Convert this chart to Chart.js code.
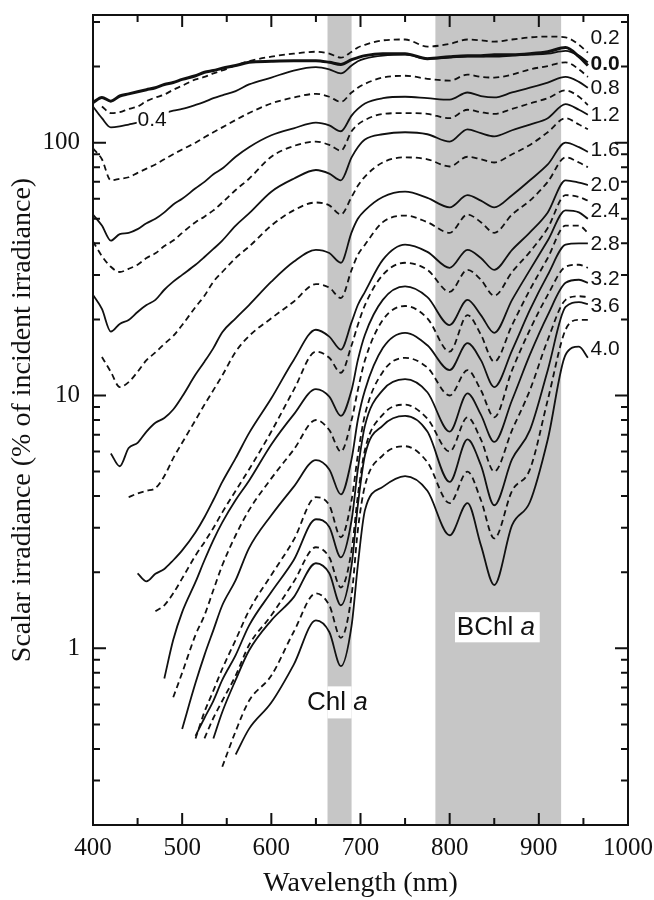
<!DOCTYPE html>
<html lang="en">
<head>
<meta charset="UTF-8">
<title>Scalar irradiance spectra</title>
<script src="https://cdn.jsdelivr.net/npm/chart.js"></script>
<style>
  body { margin: 0; background: #fff; }
  #wrap { width: 654px; height: 900px; }
</style>
</head>
<body>
<div id="wrap"><canvas id="chart" width="654" height="900"></canvas></div>
<script>
// wavelength grid (nm)
const wavelengths = [400, 410, 420, 430, 440, 450, 460, 470, 480, 490, 500, 515, 525, 535, 545, 560, 575, 600, 625, 650,
  665, 678, 690, 697, 705, 725, 750, 775, 800, 820, 835, 850, 870, 890, 910, 930, 945, 955];

// scalar irradiance (% of incident) per depth (mm)
const depth00 = [144, 151, 146, 153, 156, 159, 162, 165, 170, 173, 178, 184, 190, 193, 197, 202, 208, 210, 211, 211,
  208, 204, 213, 217, 221, 225, 225, 215, 219, 221, 221, 223, 223, 225, 229, 238, 219, 202];
const depth02 = [null, 139, 131, 132, 136, 139, 146, 151, 155, 162, 168, 178, 182, 188, 193, 202, 210, 219, 225, 229,
  225, 217, 229, 238, 244, 254, 256, 240, 246, 256, 254, 251, 256, 261, 263, 261, 244, 227];
const depth04 = [139, 125, 115, 116, 118, 120, 123, 127, 131, 134, 136, 141, 145, 150, 154, 160, 170, 181, 193, 199,
  195, 188, 202, 210, 215, 221, 223, 215, 217, 219, 219, 219, 221, 223, 225, 231, 221, 208];
const depth06 = [95, 86, 71, 72, 73, 76, 79, 82, 86, 90, 94, 100, 105, 110, 115, 123, 131, 143, 151, 156,
  152, 145, 158, 165, 171, 181, 184, 179, 176, 186, 182, 181, 186, 195, 201, 208, 195, 182];
const depth08 = [52, 47, 41, 43.5, 44, 45.5, 48, 50, 53, 57, 60, 66, 70, 75, 79, 88, 96, 107, 114, 120,
  117, 111, 128, 136, 143, 150, 152, 150, 148, 158, 153, 151, 158, 165, 173, 182, 174, 165];
const depth10 = [40.7, 35.6, 32.3, 30.8, 31.7, 32.9, 35, 36.5, 39, 41, 44, 48.5, 51, 54, 58, 65, 72, 88, 97, 101,
  98, 93, 111, 118, 123, 130, 131, 130, 125, 135, 132, 130, 136, 143, 150, 161, 152, 141];
const depth12 = [25, 22, 17.9, 19.2, 19.9, 21.4, 22.8, 23.9, 26.2, 28.2, 30, 32.9, 35.3, 38, 41, 47, 52.5, 64, 72, 78,
  75.5, 71, 87.5, 96, 103, 108, 110, 108, 101, 113, 109, 106, 112, 118, 125, 142, 135, 129];
const depth14 = [null, 14.2, 12.4, 10.8, 11.3, 12.4, 13.8, 14.8, 16, 17.2, 19, 22.4, 24.8, 28.2, 30.8, 35, 38.8, 47, 54, 58,
  56.5, 52, 61, 67.5, 73.5, 83.5, 87.5, 86, 80.5, 88, 86, 83.5, 90, 98, 110, 125, 118, 113];
const depth16 = [null, null, 5.9, 5.25, 6.2, 6.5, 7.2, 7.8, 8.15, 8.8, 9.9, 12.1, 13.6, 15.4, 17.8, 20.2, 22.8, 28.2, 33.8, 37.7,
  36.6, 33.5, 44.2, 50, 54, 61, 64, 60.5, 55.5, 62, 59, 55.5, 62, 71, 82, 100, 96, 92];
const depth18 = [null, null, null, null, 3.96, 4.1, 4.2, 4.3, 4.8, 5.65, 6.5, 8, 9.2, 10.5, 12, 14.9, 17.2, 20.2, 23.5, 27.6,
  26.7, 24.3, 31.4, 36, 39.5, 48.5, 51.5, 48.5, 44, 52, 48.5, 44, 52, 59, 70, 87.5, 83.5, 80];
const depth20 = [null, null, null, null, null, 1.98, 1.84, 1.97, 2.06, 2.23, 2.44, 2.88, 3.3, 3.86, 4.55, 5.65, 7.1, 9.75, 13.8, 18.2,
  17.1, 15.2, 19.5, 22.8, 25.7, 34.4, 39.5, 37, 32, 37.7, 35, 31.4, 37.7, 44.2, 53, 71, 69.5, 68];
const depth22 = [null, null, null, null, null, null, null, 1.40, 1.48, 1.65, 1.89, 2.33, 2.63, 2.99, 3.45, 4.2, 5.1, 7.2, 10.5, 14.9,
  14.1, 12.3, 15.8, 19, 22.8, 30, 33.5, 31.4, 25.7, 31.4, 28.7, 24.8, 30.8, 37, 46, 62, 61, 59];
const depth24 = [null, null, null, null, null, null, null, null, 0.76, 1.08, 1.39, 1.83, 2.23, 2.68, 3.15, 3.86, 4.6, 6.4, 8.4, 10.6,
  9.9, 8.3, 10.5, 13.8, 17.4, 23.9, 27, 24.5, 19, 23.9, 20.8, 17.7, 23.9, 31.4, 41, 54, 53, 50];
const depth26 = [null, null, null, null, null, null, null, null, null, 0.64, 0.80, 1.13, 1.35, 1.70, 2.13, 2.8, 3.52, 4.7, 6.1, 8,
  7.3, 6, 8, 10.5, 13.8, 19.9, 22.6, 20.2, 14.9, 20.8, 17.4, 13.6, 19, 26.2, 35, 47, 47, 44];
const depth28 = [null, null, null, null, null, null, null, null, null, null, 0.48, 0.73, 0.94, 1.18, 1.48, 1.86, 2.49, 3.36, 4.35, 5.55,
  5.1, 4.06, 5.6, 8, 10.5, 15.4, 17.7, 15.8, 12.6, 16.1, 13.8, 10.8, 15.1, 21.8, 30, 39.5, 40, 40];
const depth30 = [null, null, null, null, null, null, null, null, null, null, null, 0.44, 0.56, 0.68, 0.83, 1.08, 1.41, 1.95, 2.68, 3.96,
  3.68, 2.75, 3.86, 5.8, 8.4, 12.4, 14.1, 12.9, 10, 12.6, 10.5, 8.2, 12.6, 18.2, 25, 32.3, 32.9, 32];
const depth32 = [null, null, null, null, null, null, null, null, null, null, null, 0.45, 0.53, 0.62, 0.75, 0.94, 1.23, 1.67, 2.23, 3.24,
  3.02, 2.29, 3.21, 5.1, 7.6, 10.5, 11.6, 10.3, 7.2, 10.2, 8.4, 6.55, 9.6, 14.5, 20.8, 27.9, 28.7, 27.9];
const depth34 = [null, null, null, null, null, null, null, null, null, null, null, null, 0.44, 0.53, 0.62, 0.78, 1.03, 1.35, 1.83, 2.51,
  2.29, 1.74, 2.44, 4.0, 6.1, 8.4, 9.2, 8.1, 6, 8.2, 6.7, 5, 7.3, 10.5, 16.6, 23.9, 24.7, 24.5];
const depth36 = [null, null, null, null, null, null, null, null, null, null, null, null, null, 0.44, 0.56, 0.75, 0.98, 1.29, 1.59, 2.17,
  1.98, 1.48, 2.13, 3.68, 5.8, 7.6, 8.3, 7.2, 4.55, 6.7, 5.3, 3.68, 5.6, 7.3, 12.6, 22.4, 23.4, 23];
const depth38 = [null, null, null, null, null, null, null, null, null, null, null, null, null, null, 0.34, 0.47, 0.62, 0.78, 1.16, 1.65,
  1.48, 1.1, 1.62, 2.93, 4.4, 5.8, 6.3, 5.45, 3.75, 5, 3.86, 2.72, 4.2, 5.1, 9.6, 18.2, 19.9, 19.9];
const depth40 = [null, null, null, null, null, null, null, null, null, null, null, null, null, null, null, 0.38, 0.48, 0.61, 0.86, 1.29,
  1.16, 0.85, 1.23, 2.13, 3.52, 4.35, 4.8, 4.2, 2.8, 3.75, 2.56, 1.78, 3.07, 3.79, 6.7, 14.5, 15.6, 14.1];

const depthNames = ['0.0', '0.2', '0.4', '0.6', '0.8', '1.0', '1.2', '1.4', '1.6', '1.8', '2.0',
  '2.2', '2.4', '2.6', '2.8', '3.0', '3.2', '3.4', '3.6', '3.8', '4.0'];
const depthSeries = [depth00, depth02, depth04, depth06, depth08, depth10, depth12, depth14, depth16, depth18, depth20,
  depth22, depth24, depth26, depth28, depth30, depth32, depth34, depth36, depth38, depth40];

// depth labels at the right end of the curves
const sideLabels = ['0.2', '0.0', '0.8', '1.2', '1.6', '2.0', '2.4', '2.8', '3.2', '3.6', '4.0'];
const sideLabelValues = [258, 204, 164, 128, 93, 67.6, 53.8, 39.8, 28.9, 22.6, 15.3];

// axis ticks
const xTicks = [400, 450, 500, 550, 600, 650, 700, 750, 800, 850, 900, 950, 1000];
const yTicks = [0.2, 0.3, 0.4, 0.5, 0.6, 0.7, 0.8, 0.9, 1, 2, 3, 4, 5, 6, 7, 8, 9,
  10, 20, 30, 40, 50, 60, 70, 80, 90, 100, 200, 300];

// absorption bands (nm)
const chlBand = [663, 690];
const bchlBand = [784, 925];

const serif = '"Liberation Serif", "Times New Roman", serif';
const sans = '"Liberation Sans", Arial, sans-serif';
const ink = '#111';

const datasets = depthSeries.map((vals, i) => ({
  label: depthNames[i],
  data: wavelengths.map((w, j) => ({ x: w, y: vals[j] })),
  borderColor: ink,
  borderWidth: i === 0 ? 3 : 1.8,
  borderDash: i % 2 === 1 ? [6, 4] : [],
  pointRadius: 0,
  cubicInterpolationMode: 'monotone',
  fill: false
}));

function drawParts(ctx, parts, x, y, size) {
  let cx = x;
  parts.forEach(([txt, italic]) => {
    ctx.font = (italic ? 'italic ' : '') + size + 'px ' + sans;
    ctx.fillText(txt, cx, y);
    cx += ctx.measureText(txt).width;
  });
}

const decor = {
  id: 'decor',
  beforeDatasetsDraw(chart) {
    const { ctx, chartArea: a, scales: { x } } = chart;
    ctx.save();
    ctx.fillStyle = '#c6c6c6';
    [chlBand, bchlBand].forEach(([lo, hi]) => {
      const x0 = x.getPixelForValue(lo), x1 = x.getPixelForValue(hi);
      ctx.fillRect(x0, a.top, x1 - x0, a.bottom - a.top);
    });
    ctx.restore();
  },
  afterDatasetsDraw(chart) {
    const { ctx, scales: { x, y } } = chart;
    ctx.save();
    ctx.fillStyle = '#fff';
    // gap in the Chl band for its label
    const cx0 = x.getPixelForValue(chlBand[0]), cx1 = x.getPixelForValue(chlBand[1]);
    ctx.fillRect(cx0, y.getPixelForValue(0.707), cx1 - cx0, y.getPixelForValue(0.528) - y.getPixelForValue(0.707));
    // box behind BChl a
    const bx0 = x.getPixelForValue(806), bx1 = x.getPixelForValue(901);
    ctx.fillRect(bx0, y.getPixelForValue(1.39), bx1 - bx0, y.getPixelForValue(1.056) - y.getPixelForValue(1.39));
    // box behind 0.4 label
    const lx0 = x.getPixelForValue(449), lx1 = x.getPixelForValue(485);
    ctx.fillRect(lx0, y.getPixelForValue(134), lx1 - lx0, y.getPixelForValue(113.6) - y.getPixelForValue(134));

    ctx.fillStyle = ink;
    ctx.textBaseline = 'middle';
    ctx.textAlign = 'left';
    drawParts(ctx, [['Chl ', false], ['a', true]], x.getPixelForValue(640), y.getPixelForValue(0.61), 26);
    drawParts(ctx, [['BChl ', false], ['a', true]], x.getPixelForValue(808), y.getPixelForValue(1.21), 26);

    ctx.font = '21px ' + sans;
    ctx.fillText('0.4', x.getPixelForValue(450), y.getPixelForValue(123));
    sideLabels.forEach((t, i) => {
      ctx.font = (t === '0.0' ? 'bold ' : '') + '21px ' + sans;
      ctx.fillText(t, x.getPixelForValue(958), y.getPixelForValue(sideLabelValues[i]));
    });
    ctx.restore();
  },
  afterDraw(chart) {
    const { ctx, chartArea: a, scales: { x, y } } = chart;
    ctx.save();
    ctx.strokeStyle = ink;
    ctx.lineWidth = 2;
    ctx.strokeRect(a.left, a.top, a.right - a.left, a.bottom - a.top);
    ctx.beginPath();
    yTicks.forEach(v => {
      const py = y.getPixelForValue(v);
      const len = [1, 10, 100].includes(v) ? 13 : 7;
      ctx.moveTo(a.left, py); ctx.lineTo(a.left + len, py);
      ctx.moveTo(a.right, py); ctx.lineTo(a.right - len, py);
    });
    xTicks.forEach(v => {
      const px = x.getPixelForValue(v);
      const len = v % 100 === 0 ? 12 : 7;
      ctx.moveTo(px, a.bottom); ctx.lineTo(px, a.bottom - len);
      ctx.moveTo(px, a.top); ctx.lineTo(px, a.top + len);
    });
    ctx.stroke();
    ctx.restore();
  }
};

new Chart(document.getElementById('chart'), {
  type: 'line',
  data: { datasets },
  options: {
    responsive: false,
    animation: false,
    devicePixelRatio: 1,
    layout: { padding: { top: 15, right: 26, left: 0, bottom: 0 } },
    plugins: { legend: { display: false }, tooltip: { enabled: false } },
    scales: {
      x: {
        type: 'linear',
        min: 400,
        max: 1000,
        afterFit: s => { s.height = 75; s.paddingLeft = 0; s.paddingRight = 0; },
        afterBuildTicks: s => { s.ticks = xTicks.filter(v => v % 100 === 0).map(v => ({ value: v })); },
        grid: { display: false, drawTicks: false },
        border: { display: false },
        ticks: {
          autoSkip: false, maxRotation: 0, padding: 8, color: ink,
          font: { family: serif, size: 25 },
          callback: v => String(v)
        },
        title: { display: true, text: 'Wavelength (nm)', color: ink, font: { family: serif, size: 28 }, padding: { top: 0, bottom: 0 } }
      },
      y: {
        type: 'logarithmic',
        min: 0.2,
        max: 320,
        afterFit: s => { s.width = 93; s.paddingTop = 0; s.paddingBottom = 0; },
        afterBuildTicks: s => { s.ticks = yTicks.map(v => ({ value: v })); },
        grid: { display: false, drawTicks: false },
        border: { display: false },
        ticks: {
          autoSkip: false,
          padding: 13,
          color: ink,
          font: { family: serif, size: 25 },
          callback: v => ([1, 10, 100].includes(v) ? String(v) : '')
        },
        title: { display: true, text: 'Scalar irradiance (% of incident irradiance)', color: ink, font: { family: serif, size: 28 }, padding: { top: 6, bottom: 0 } }
      }
    }
  },
  plugins: [decor]
});
</script>
</body>
</html>
